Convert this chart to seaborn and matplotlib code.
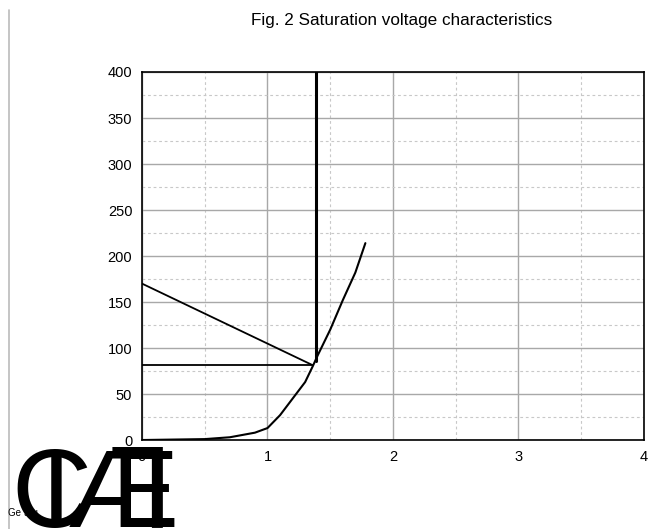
import numpy as np
import pandas as pd
import matplotlib
matplotlib.use('Agg')
import matplotlib.pyplot as plt
from matplotlib.lines import Line2D
from matplotlib.ticker import MultipleLocator
import seaborn as sns

# Curve values
vce = [0.0, 0.5, 0.7, 0.9, 1.0, 1.1, 1.2, 1.3, 1.36, 1.4, 1.5, 1.6, 1.7, 1.78]
ic = [0, 1, 3, 8, 13, 27, 45, 63, 80, 92, 120, 152, 182, 214]

# Construction lines
vert_x = [1.39, 1.39]
vert_y = [86, 400]
horiz_x = [0, 1.36]
horiz_y = [82, 82]
diag_x = [0, 1.35]
diag_y = [170, 82]

x_ticks = [0, 1, 2, 3, 4]
y_ticks = [0, 50, 100, 150, 200, 250, 300, 350, 400]

sns.set_style('white')
plt.rcParams['font.family'] = ['Liberation Sans', 'DejaVu Sans']
plt.rcParams['text.color'] = 'black'
plt.rcParams['xtick.color'] = 'black'
plt.rcParams['ytick.color'] = 'black'

fig = plt.figure(figsize=(6.58, 5.29), dpi=100)
ax = fig.add_axes([0.2158, 0.1682, 0.7629, 0.6957])

df = pd.DataFrame({'vce': vce, 'ic': ic})
sns.lineplot(data=df, x='vce', y='ic', ax=ax, color='black', linewidth=1.5,
             sort=False, estimator=None)
sns.lineplot(x=horiz_x, y=horiz_y, ax=ax, color='black', linewidth=1.3,
             sort=False, estimator=None)
sns.lineplot(x=diag_x, y=diag_y, ax=ax, color='black', linewidth=1.3,
             sort=False, estimator=None)
sns.lineplot(x=vert_x, y=vert_y, ax=ax, color='black', linewidth=2.2,
             sort=False, estimator=None)

ax.set_xlim(0, 4)
ax.set_ylim(0, 400)
ax.set_xticks(x_ticks)
ax.set_yticks(y_ticks)
ax.xaxis.set_minor_locator(MultipleLocator(0.5))
ax.yaxis.set_minor_locator(MultipleLocator(25))
ax.grid(which='major', color='#a8a8a8', linewidth=1.0, linestyle='-')
ax.grid(which='minor', color='#c8c8c8', linewidth=0.8, linestyle=(0, (2.5, 2.5)))
ax.set_axisbelow(True)
ax.tick_params(axis='both', which='both', length=0, labelsize=10.5)
ax.tick_params(axis='x', pad=7)
ax.tick_params(axis='y', pad=7)
ax.set_xlabel('')
ax.set_ylabel('')
for s in ax.spines.values():
    s.set_color('black')
    s.set_linewidth(1.2)

fig.text(0.611, 0.962, 'Fig. 2 Saturation voltage characteristics',
         ha='center', va='center', fontsize=12.3)

# thin gray rule at far left
fig.add_artist(Line2D([9 / 658, 9 / 658], [0, 1 - 10 / 529], color='#bbbbbb', linewidth=1.2))

# overlapping large glyphs in the lower-left corner
big = dict(fontsize=80, va='baseline', ha='left', color='black',
           family=['Liberation Sans'])
base = 2 / 529
fig.text(11 / 658, base, 'C', **big)
fig.text(41 / 658, base, 'I', **big)
fig.text(68 / 658, base, 'Æ', **big)
fig.text(112 / 658, base, '⅂', fontsize=80, va='baseline', ha='left',
         family=['DejaVu Sans'])
fig.text(8 / 658, 16 / 529, 'Ge 9ru', fontsize=7, va='center', ha='left')

fig.savefig('out.png', dpi=100)
